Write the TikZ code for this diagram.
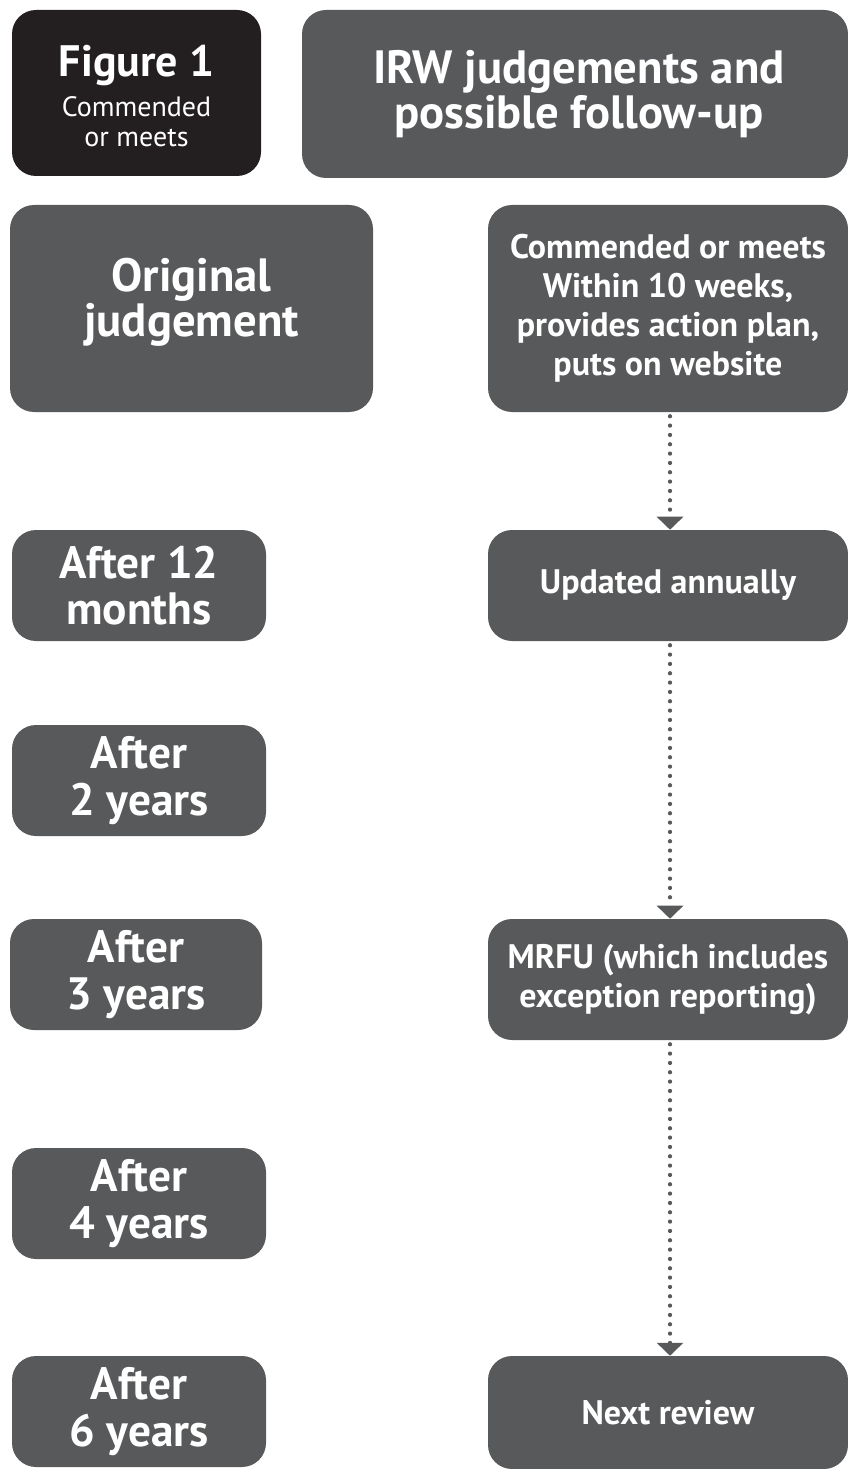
\documentclass[tikz,border=0pt]{standalone}
\usepackage{fontspec}
\setmainfont{PT Sans}
\usetikzlibrary{arrows.meta}
\definecolor{boxgrey}{HTML}{58595B}
\definecolor{boxblack}{HTML}{231F20}
\tikzset{
  gbox/.style={fill=boxgrey, rounded corners=18pt, text=white, align=center, inner sep=0pt},
  kbox/.style={gbox, fill=boxblack},
  bigtxt/.style={font=\fontsize{35}{34}\selectfont\bfseries},
  midtxt/.style={font=\fontsize{34}{35}\selectfont\bfseries},
  smalltxt/.style={font=\fontsize{25.5}{29.3}\selectfont\bfseries},
  figtxt/.style={font=\fontsize{21}{22.5}\selectfont},
  dotarrow/.style={boxgrey, line width=3.2pt, line cap=round, dash pattern=on 0pt off 7pt,
    -{Triangle[width=19.5pt,length=9.75pt]}}
}
\newcommand{\figtitle}{\fontsize{33}{22.5}\selectfont\bfseries}
\begin{document}
\begin{tikzpicture}[x=0.75pt,y=-0.75pt]
\useasboundingbox (0,0) rectangle (848,1469);
% header
\node[kbox, minimum width=186.75pt, minimum height=124.5pt] (fig) at (136.5,93) {};
\node[figtxt, text=white, align=center, inner sep=0pt] (figlbl) at (136.5,96)
  {{\figtitle Figure 1}\\[8pt]Commended\\or meets};
\node[gbox, minimum width=409.5pt, minimum height=126pt] (irw) at (575,94) {};
\node[bigtxt, text=white, align=center, inner sep=0pt] (irwlbl) at (579,94)
  {IRW judgements and\\possible follow-up};
% left column
\node[gbox, minimum width=272.25pt, minimum height=155.25pt] (orig) at (191.5,308.5) {};
\node[bigtxt, text=white, align=center, inner sep=0pt] (origlbl) at (191.5,302)
  {Original\\judgement};
\node[gbox, midtxt, minimum width=190.5pt, minimum height=83.25pt] (a12) at (139,585.5)
  {After 12\\months};
\node[gbox, midtxt, minimum width=190.5pt, minimum height=83.25pt] (a2) at (139,780.5)
  {After\\2 years};
\node[gbox, midtxt, minimum width=189pt, minimum height=83.25pt] (a3) at (136,974.5)
  {After\\3 years};
\node[gbox, midtxt, minimum width=190.5pt, minimum height=83.25pt] (a4) at (139,1203.5)
  {After\\4 years};
\node[gbox, midtxt, minimum width=190.5pt, minimum height=83.25pt] (a6) at (139,1411.5)
  {After\\6 years};
% right column
\node[gbox, smalltxt, minimum width=270pt, minimum height=155.25pt] (comm) at (668,308.5)
  {Commended or meets\\Within 10 weeks,\\provides action plan,\\puts on website};
\node[gbox, smalltxt, minimum width=270pt, minimum height=83.25pt] (upd) at (668,585.5)
  {Updated annually};
\node[gbox, smalltxt, minimum width=270pt, minimum height=90.75pt] (mrfu) at (668,979.5)
  {MRFU (which includes\\exception reporting)};
\node[gbox, smalltxt, minimum width=270pt, minimum height=84.75pt] (next) at (668,1412.5)
  {Next review};
% connectors
\draw[dotarrow] ([xshift=1.5pt,yshift=-3pt]comm.south) -- ([xshift=1.5pt]upd.north);
\draw[dotarrow] ([xshift=1.5pt,yshift=-3pt]upd.south) -- ([xshift=1.5pt]mrfu.north);
\draw[dotarrow] ([xshift=1.5pt,yshift=-3pt]mrfu.south) -- ([xshift=1.5pt]next.north);
\end{tikzpicture}
\end{document}
